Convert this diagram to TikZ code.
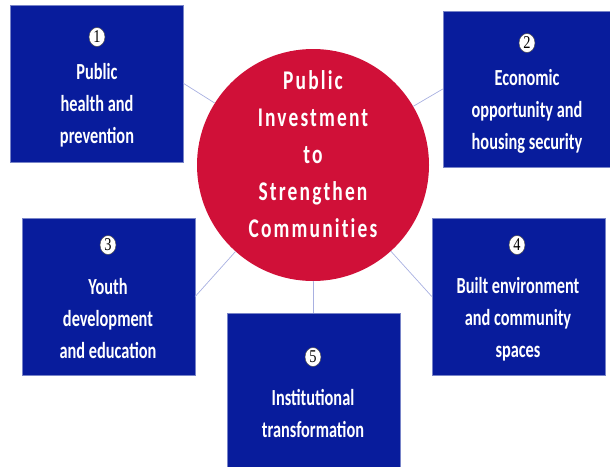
\documentclass[tikz,border=0pt]{standalone}
\usepackage{fontspec}
\usetikzlibrary{shapes.geometric}
\setmainfont{Carlito}
\newfontfamily\boxfont[FakeStretch=0.71]{Carlito}
\newfontfamily\hubfont[FakeStretch=0.72,LetterSpace=8,Ligatures=CommonOff]{Carlito}
\newfontfamily\numfont[FakeStretch=0.8]{Liberation Serif}
\definecolor{boxblue}{RGB}{8,28,156}
\definecolor{boxedge}{RGB}{120,132,200}
\definecolor{hubred}{RGB}{208,16,56}
\definecolor{spokeblue}{RGB}{168,176,225}
\tikzset{
  theme/.style={draw=boxedge, fill=boxblue, minimum width=173pt, minimum height=157pt, inner sep=0pt},
  themetxt/.style={text=white, align=center, inner sep=0pt, font=\boxfont\bfseries\fontsize{23}{32}\selectfont},
  hubtxt/.style={text=white, align=center, inner sep=0pt, font=\hubfont\bfseries\fontsize{27}{37}\selectfont},
  numdot/.style={ellipse, fill=white, draw=black!70, line width=0.5pt, minimum width=16pt, minimum height=19pt, inner sep=0pt, font=\numfont\fontsize{18}{18}\selectfont},
  spoke/.style={draw=spokeblue, line width=0.7pt}
}

\begin{document}
\begin{tikzpicture}[x=1pt,y=-1pt]
\clip (0,0) rectangle (610,466);
\node[theme] (b1) at (97,83.5) {};
\node[theme, minimum width=168pt, minimum height=156pt] (b2) at (527,89) {};
\node[theme] (b3) at (108.5,296.5) {};
\node[theme] (b4) at (518.5,296.5) {};
\node[theme] (b5) at (313.5,391.5) {};
\node[circle, fill=hubred, minimum size=232pt, inner sep=0pt] (hub) at (313,165) {};
\draw[spoke] (hub) -- (b1.east);
\draw[spoke] (hub) -- (b2.west);
\draw[spoke] (hub) -- (b3.east);
\draw[spoke] (hub) -- (b4.west);
\draw[spoke] (hub) -- (b5.north);
\node[hubtxt] (hublabel) at (313,154) {Public\\Investment\\to\\Strengthen\\Communities};
\node[numdot] (n1) at (97,37) {1};
\node[themetxt] (t1) at (97,105) {Public\\health and\\prevention};
\node[numdot] (n2) at (527,43) {2};
\node[themetxt] (t2) at (527,111) {Economic\\opportunity and\\housing security};
\node[numdot] (n3) at (108,245) {3};
\node[themetxt] (t3) at (108,319) {Youth\\development\\and education};
\node[numdot] (n4) at (517,245) {4};
\node[themetxt] (t4) at (518,319) {Built environment\\and community\\spaces};
\node[numdot] (n5) at (313,357) {5};
\node[themetxt] (t5) at (313,413) {Institutional\\transformation};
\end{tikzpicture}
\end{document}
